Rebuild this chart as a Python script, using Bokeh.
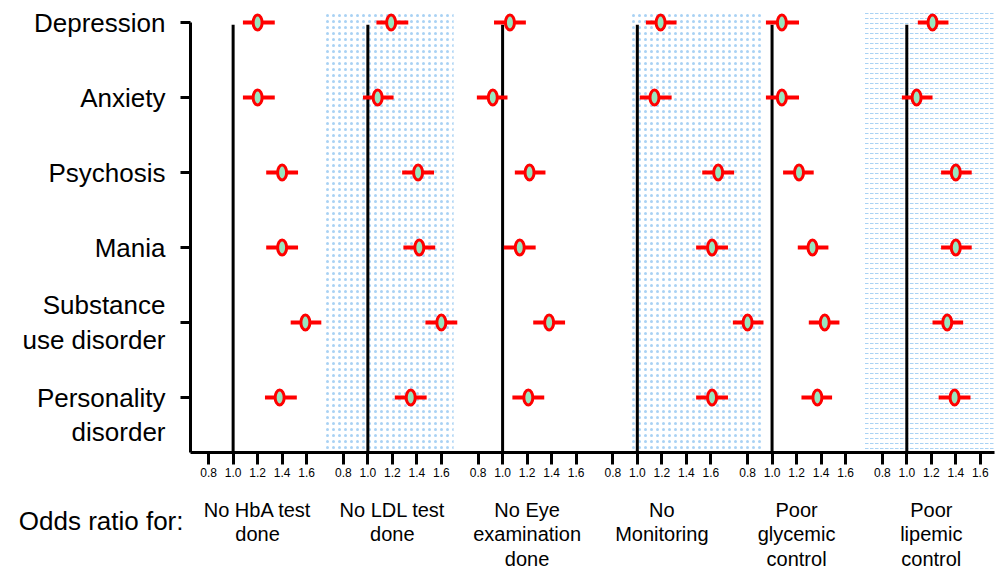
from bokeh.plotting import figure
from bokeh.layouts import column
from bokeh.models import Range1d, FixedTicker, CustomJSTickFormatter
from bokeh.core.properties import value
from bokeh.embed import file_html
from bokeh.resources import INLINE

# ---------------- data ----------------
outcomes = ["No HbA test\ndone", "No LDL test\ndone", "No Eye\nexamination\ndone",
            "No\nMonitoring", "Poor\nglycemic\ncontrol", "Poor\nlipemic\ncontrol"]
conditions = ["Depression", "Anxiety", "Psychosis", "Mania",
              "Substance\nuse disorder", "\nPersonality\ndisorder"]
row_title = "Odds ratio for:"

# odds ratios (and 95% CI) for each condition, one list per outcome
or_hba = [1.20, 1.20, 1.40, 1.40, 1.59, 1.38]
lo_hba = [1.08, 1.08, 1.27, 1.27, 1.47, 1.26]
hi_hba = [1.34, 1.34, 1.53, 1.53, 1.72, 1.52]

or_ldl = [1.19, 1.08, 1.41, 1.42, 1.60, 1.35]
lo_ldl = [1.07, 0.96, 1.28, 1.29, 1.47, 1.22]
hi_ldl = [1.33, 1.21, 1.54, 1.55, 1.73, 1.48]

or_eye = [1.06, 0.92, 1.22, 1.14, 1.38, 1.21]
lo_eye = [0.93, 0.79, 1.10, 1.01, 1.25, 1.08]
hi_eye = [1.19, 1.04, 1.35, 1.27, 1.51, 1.34]

or_mon = [1.19, 1.14, 1.66, 1.61, 1.90, 1.61]
lo_mon = [1.07, 1.02, 1.53, 1.48, 1.78, 1.48]
hi_mon = [1.32, 1.28, 1.79, 1.74, 2.03, 1.74]

or_gly = [1.08, 1.08, 1.22, 1.33, 1.43, 1.37]
lo_gly = [0.95, 0.95, 1.09, 1.21, 1.30, 1.24]
hi_gly = [1.22, 1.22, 1.34, 1.46, 1.55, 1.49]

or_lip = [1.21, 1.08, 1.40, 1.40, 1.33, 1.39]
lo_lip = [1.09, 0.96, 1.28, 1.28, 1.21, 1.26]
hi_lip = [1.34, 1.21, 1.53, 1.53, 1.46, 1.52]

x_tick_values = [0.8, 1.0, 1.2, 1.4, 1.6]

# shaded panels (index of outcome, relative start/end)
shade_idx = [1, 3, 5]
shade_lo = [0.65, 0.95, 0.65]
shade_hi = [1.70, 2.01, 1.72]

# ---------------- layout ----------------
D = 1.1                 # panel spacing in data units
X0, X1 = 0.652, 7.216
Y_BOTTOM, Y_TOP = 0.267, 6.16
REF_TOP = 5.97
FONT = "Liberation Sans"

W = 997
LEFT, RIGHT, TOP, BOTTOM = 190, 3, 10, 32
H1 = TOP + 442 + BOTTOM
H2 = 85

series_or = [or_hba, or_ldl, or_eye, or_mon, or_gly, or_lip]
series_lo = [lo_hba, lo_ldl, lo_eye, lo_mon, lo_gly, lo_lip]
series_hi = [hi_hba, hi_ldl, hi_eye, hi_mon, hi_gly, hi_lip]
n_cond = len(conditions)
ypos = [n_cond - j for j in range(n_cond)]

p = figure(width=W, height=H1,
           x_range=Range1d(X0, X1), y_range=Range1d(Y_BOTTOM, Y_TOP),
           output_backend="svg", toolbar_location=None,
           min_border_left=LEFT, min_border_right=RIGHT, min_border_top=TOP,
           min_border_bottom=BOTTOM)
p.outline_line_color = None
p.xgrid.visible = False
p.ygrid.visible = False

# hatched backgrounds
dot_l = [i * D + a for i, a in zip(shade_idx, shade_lo) if i != 5]
dot_r = [i * D + h for i, h in zip(shade_idx, shade_hi) if i != 5]
p.quad(left=dot_l, right=dot_r, bottom=Y_BOTTOM, top=6.133,
       fill_alpha=0, line_alpha=0, hatch_pattern="dot",
       hatch_color="#a9d2f4", hatch_scale=6, hatch_weight=1.1)
dash_l = [i * D + a for i, a in zip(shade_idx, shade_lo) if i == 5]
dash_r = [i * D + h for i, h in zip(shade_idx, shade_hi) if i == 5]
p.quad(left=dash_l, right=dash_r, bottom=Y_BOTTOM, top=6.133,
       fill_alpha=0, line_alpha=0, hatch_pattern="horizontal_dash",
       hatch_color="#a9d2f4", hatch_scale=5, hatch_weight=1)

# reference lines at OR = 1
ref_x = [i * D + 1.0 for i in range(len(outcomes))]
p.segment(x0=ref_x, y0=Y_BOTTOM, x1=ref_x, y1=REF_TOP, line_color="black", line_width=3)

# CIs and points
for i in range(len(outcomes)):
    off = i * D
    xs = [off + v for v in series_or[i]]
    x0 = [off + v for v in series_lo[i]]
    x1 = [off + v for v in series_hi[i]]
    p.segment(x0=x0, y0=ypos, x1=x1, y1=ypos, line_color="#ff0000", line_width=4)
    p.ellipse(x=xs, y=ypos, width=9, height=15, width_units="screen",
              height_units="screen", fill_color="#98e6bf",
              line_color="#ff0000", line_width=3)

# x axis
ticks = [i * D + t for i in range(len(outcomes)) for t in x_tick_values]
p.xaxis.ticker = FixedTicker(ticks=ticks, minor_ticks=[])
p.xaxis.formatter = CustomJSTickFormatter(args=dict(D=D), code="""
    const k = Math.round((tick - 1.2) / D);
    return (tick - k * D).toFixed(1);
""")
p.xaxis.axis_line_width = 3
p.xaxis.axis_line_color = "black"
p.xaxis.major_tick_line_width = 3
p.xaxis.major_tick_line_color = "black"
p.xaxis.major_tick_out = 12
p.xaxis.major_tick_in = 0
p.xaxis.minor_tick_line_color = None
p.xaxis.major_label_text_font = FONT
p.xaxis.major_label_text_font_size = "12px"
p.xaxis.major_label_text_color = "black"
p.xaxis.major_label_standoff = 3

# y axis
p.yaxis.ticker = FixedTicker(ticks=ypos, minor_ticks=[])
p.yaxis.major_label_overrides = {y: c for y, c in zip(ypos, conditions)}
p.yaxis.bounds = (Y_BOTTOM, n_cond)
p.yaxis.axis_line_width = 3
p.yaxis.axis_line_color = "black"
p.yaxis.major_tick_line_width = 3
p.yaxis.major_tick_line_color = "black"
p.yaxis.major_tick_out = 10
p.yaxis.major_tick_in = 0
p.yaxis.minor_tick_line_color = None
p.yaxis.major_label_text_font = FONT
p.yaxis.major_label_text_font_size = "26px"
p.yaxis.major_label_text_color = "black"
p.yaxis.major_label_text_line_height = 1.14
p.yaxis.major_label_standoff = 15

# ---------------- outcome names strip (same x scale, page-pixel y) ----------------
TITLE_Y = 520
p2 = figure(width=W, height=H2,
            x_range=Range1d(X0, X1), y_range=Range1d(H1 + H2, H1),
            output_backend="svg", toolbar_location=None,
            min_border_left=LEFT, min_border_right=RIGHT,
            min_border_top=0, min_border_bottom=0,
            x_axis_location=None)
p2.outline_line_color = None
p2.xgrid.visible = False
p2.ygrid.visible = False
p2.yaxis.ticker = FixedTicker(ticks=[TITLE_Y], minor_ticks=[])
p2.yaxis.major_label_overrides = {TITLE_Y: row_title}
p2.yaxis.axis_line_color = None
p2.yaxis.major_tick_line_color = None
p2.yaxis.minor_tick_line_color = None
p2.yaxis.major_tick_out = 0
p2.yaxis.major_tick_in = 0
p2.yaxis.major_label_standoff = 7
p2.yaxis.major_label_text_font = FONT
p2.yaxis.major_label_text_font_size = "26px"
p2.yaxis.major_label_text_color = "black"

p2.text(x=[i * D + 1.2 for i in range(len(outcomes))], y=[498] * len(outcomes),
        text=outcomes, text_align="center", text_baseline="top",
        text_font=value(FONT), text_font_size="20px", text_line_height=1.12,
        text_color="black")

layout = column(p, p2, spacing=0)
open("out.html", "w").write(file_html(layout, INLINE))
